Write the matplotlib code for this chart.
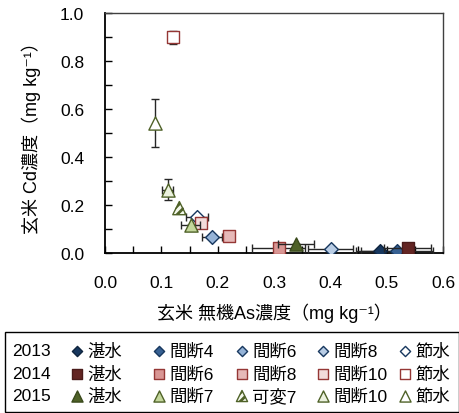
import matplotlib
matplotlib.use("Agg")
import matplotlib.pyplot as plt
from matplotlib.ticker import MultipleLocator, FormatStrFormatter
from matplotlib.patches import Rectangle

plt.rcParams['font.family'] = ['Liberation Sans', 'Noto Sans CJK JP', 'DejaVu Sans']
plt.rcParams['hatch.linewidth'] = 2.0

# ---- data: brown rice inorganic As (x) vs Cd (y), mg/kg ----
years = ['2013', '2014', '2015']

labels_2013 = ['湛水', '間断4', '間断6', '間断8', '節水']
as_2013 = [0.489, 0.519, 0.190, 0.401, 0.163]
cd_2013 = [0.010, 0.010, 0.067, 0.018, 0.148]
as_err_2013 = [0.044, 0.064, 0.018, 0.040, 0.020]
cd_err_2013 = [0.0, 0.0, 0.0, 0.0, 0.0]

labels_2014 = ['湛水', '間断6', '間断8', '間断10', '節水']
as_2014 = [0.537, 0.308, 0.220, 0.171, 0.121]
cd_2014 = [0.022, 0.022, 0.071, 0.125, 0.899]
as_err_2014 = [0.042, 0.047, 0.0, 0.0, 0.0]
cd_err_2014 = [0.0, 0.0, 0.0, 0.0, 0.028]

labels_2015 = ['湛水', '間断7', '可変7', '間断10', '節水']
as_2015 = [0.339, 0.152, 0.132, 0.111, 0.089]
cd_2015 = [0.036, 0.117, 0.187, 0.264, 0.540]
as_err_2015 = [0.032, 0.017, 0.0, 0.009, 0.0]
cd_err_2015 = [0.0, 0.0, 0.0, 0.045, 0.100]

# ---- styles ----
markers = {'2013': 'D', '2014': 's', '2015': '^'}
sizes = {'2013': 7.0, '2014': 8.0, '2015': 9.5}
legend_sizes = {'2013': 5.2, '2014': 7.0, '2015': 8.0}
faces = {
    '2013': ['#17375E', '#376092', '#95B3D7', '#B9CDE5', 'white'],
    '2014': ['#632523', '#D99694', '#E6B9B8', '#F2DCDB', 'white'],
    '2015': ['#4F6228', '#C3D69B', '#F4F8EC', '#EBF1DE', 'white'],
}
edges = {
    '2013': ['#0F243E', '#17375E', '#17375E', '#17375E', '#17375E'],
    '2014': ['#4A1B1A', '#953735', '#953735', '#953735', '#953735'],
    '2015': ['#3A4A1C', '#4F6228', '#4F6228', '#4F6228', '#4F6228'],
}
hatches = {
    '2013': [None] * 5,
    '2014': [None] * 5,
    '2015': [None, None, '////', None, None],
}

series = {
    '2013': (labels_2013, as_2013, cd_2013, as_err_2013, cd_err_2013),
    '2014': (labels_2014, as_2014, cd_2014, as_err_2014, cd_err_2014),
    '2015': (labels_2015, as_2015, cd_2015, as_err_2015, cd_err_2015),
}

fig = plt.figure(figsize=(4.6, 4.14), dpi=100)
ax = fig.add_axes([105 / 460, 1 - 254 / 414, 338 / 460, 240 / 414])

z = 3
for yr in years:
    labs, xs, ys, xe, ye = series[yr]
    ax.errorbar(xs, ys, xerr=xe, yerr=ye, fmt='none', ecolor='#262626',
                elinewidth=1.0, capsize=2.6, capthick=1.0, zorder=z)
    for i in range(len(xs)):
        ax.scatter([xs[i]], [ys[i]], marker=markers[yr], s=sizes[yr] ** 2,
                   facecolor=faces[yr][i], edgecolor=edges[yr][i],
                   linewidths=1.0, hatch=hatches[yr][i], zorder=z + 1)
        z += 0.01
    z += 1

ax.set_xlim(0, 0.6)
ax.set_ylim(0, 1.0)
ax.xaxis.set_major_locator(MultipleLocator(0.1))
ax.xaxis.set_minor_locator(MultipleLocator(0.05))
ax.yaxis.set_major_locator(MultipleLocator(0.2))
ax.yaxis.set_minor_locator(MultipleLocator(0.1))
ax.xaxis.set_major_formatter(FormatStrFormatter('%.1f'))
ax.yaxis.set_major_formatter(FormatStrFormatter('%.1f'))
ax.tick_params(axis='both', which='both', direction='in', length=5, width=1.0,
               color='black', labelsize=12.5, top=False, right=False)
ax.tick_params(axis='x', which='major', pad=16)
ax.tick_params(axis='y', which='major', pad=15)
for s in ['left', 'bottom']:
    ax.spines[s].set_color('black')
    ax.spines[s].set_linewidth(1.3)
for s in ['top', 'right']:
    ax.spines[s].set_color('#404040')
    ax.spines[s].set_linewidth(1.0)

fig.text(274 / 460, 1 - 313 / 414, '玄米 無機As濃度（mg kg⁻¹）', ha='center',
         va='center', fontsize=13)
fig.text(31 / 460, 1 - 134 / 414, '玄米 Cd濃度（mg kg⁻¹）', ha='center',
         va='center', rotation=90, fontsize=13)

# ---- legend table ----
lg = fig.add_axes([0, 0, 1, 1], zorder=10)
lg.set_xlim(0, 460)
lg.set_ylim(414, 0)
lg.axis('off')
lg.add_patch(Rectangle((5, 333), 454, 80, facecolor='white', edgecolor='black',
                       linewidth=1.0))
row_y = [352, 375, 397]
marker_x = [77, 159, 242, 323, 405]
text_x = [87, 169, 252, 333, 415]
for r, yr in enumerate(years):
    labs = series[yr][0]
    lg.text(12, row_y[r], yr, ha='left', va='center', fontsize=12.5)
    for i, lab in enumerate(labs):
        lg.scatter([marker_x[i]], [row_y[r]], marker=markers[yr],
                   s=legend_sizes[yr] ** 2, facecolor=faces[yr][i],
                   edgecolor=edges[yr][i], linewidths=1.0,
                   hatch=hatches[yr][i], clip_on=False)
        lg.text(text_x[i], row_y[r], lab, ha='left', va='center', fontsize=12.5)

fig.savefig('out.png', dpi=100)
